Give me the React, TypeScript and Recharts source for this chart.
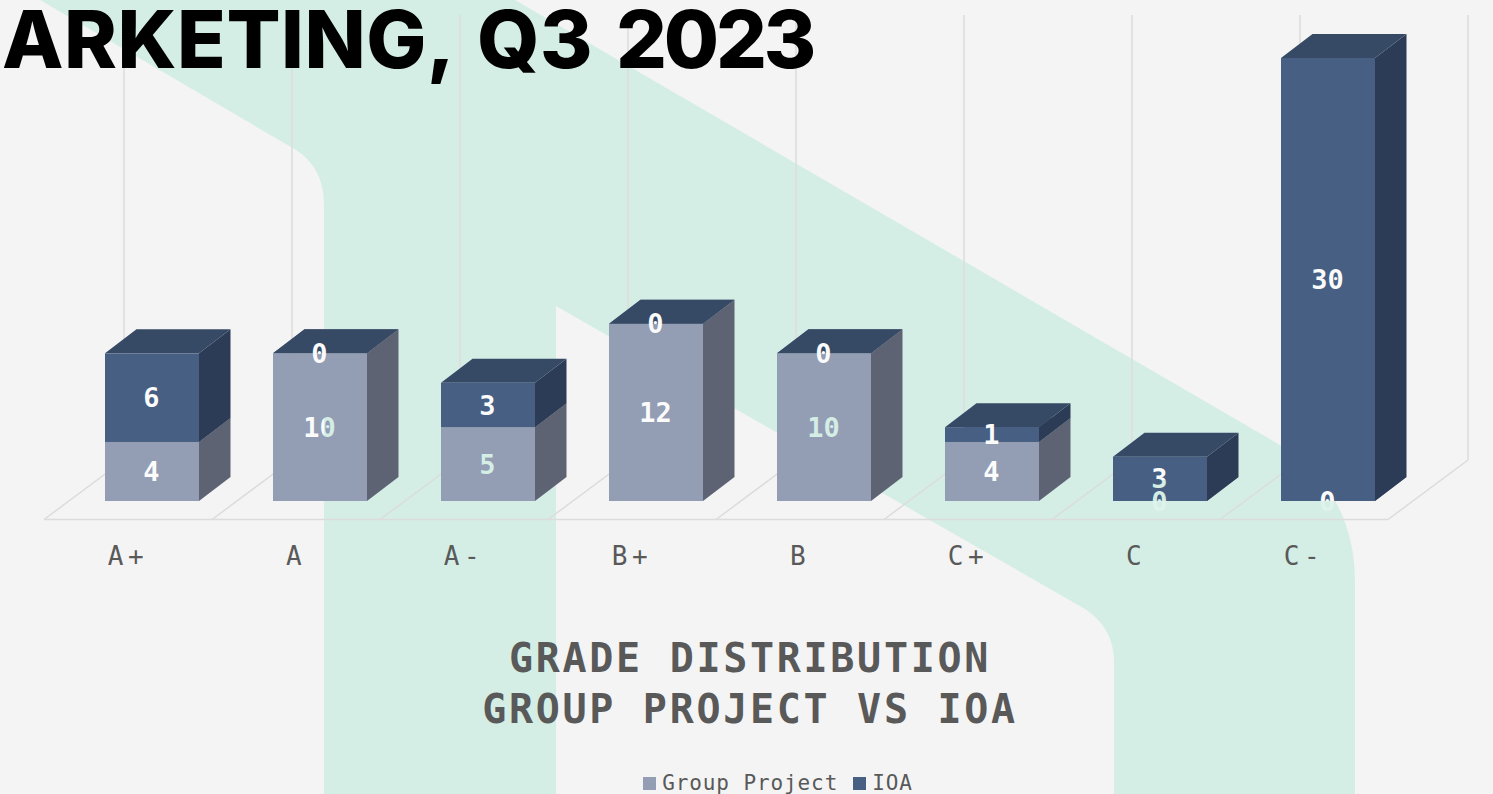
import React from "react";
import { BarChart, Bar, XAxis, YAxis, Legend, LabelList, CartesianGrid } from "recharts";

const grades = ["A+", "A", "A-", "B+", "B", "C+", "C", "C-"];
const groupProject = [4, 10, 5, 12, 10, 4, 0, 0];
const ioa = [6, 0, 3, 0, 0, 1, 3, 30];

const rows = grades.map((grade, i) => ({ grade, groupProject: groupProject[i], ioa: ioa[i] }));

const W = 1493;
const H = 794;
const PAGE = "#f4f4f4";
const MINT = "#d4eee6";
const LABEL_WHITE = "#fbfbfb";
const GRID = "#dcdcdc";
const TEXT = "#595959";
const MONO = "'DejaVu Sans Mono', monospace";
const DEPTH_X = 31.5;
const DEPTH_Y = 24;
const RIBBON =
  "M40 0 L296 150 Q324 168 324 205 L324 794 L556 794 L556 306 L1085 609 Q1114 628 1114 662 L1114 794 L1355 794 L1355 580 C1355 520 1325 470 1280 445 L515 0 Z";

const GROUP_COLORS = { front: "#939eb5", side: "#5e6373", top: "#6e7689" };
const IOA_COLORS = { front: "#475f82", side: "#2c3c56", top: "#364a66" };

function Box3D(props: any) {
  const { x, y, width, height, colors } = props;
  const r = x + width;
  const b = y + height;
  return (
    <g>
      <polygon
        points={`${r},${y} ${r + DEPTH_X},${y - DEPTH_Y} ${r + DEPTH_X},${b - DEPTH_Y} ${r},${b}`}
        fill={colors.side}
      />
      <polygon
        points={`${x},${y} ${x + DEPTH_X},${y - DEPTH_Y} ${r + DEPTH_X},${y - DEPTH_Y} ${r},${y}`}
        fill={colors.top}
      />
      <rect x={x} y={y} width={width} height={height} fill={colors.front} />
    </g>
  );
}

function bandCentres(props: any) {
  const { offset } = props;
  const step = offset.width / grades.length;
  return grades.map((_, i) => offset.left + step * (i + 0.5));
}

function gridCell(props: any) {
  const { x1: x, y2, index, key } = props;
  const baseY = y2;
  const frontY = baseY + 18.5;
  const backY = baseY - 41;
  const left = x - 108;
  const back = x - 28;
  const isLast = index === grades.length - 1;
  return (
    <g key={key ?? index}>
      <line x1={left} y1={frontY} x2={back} y2={backY} stroke={GRID} strokeWidth={1.5} />
      <line x1={back} y1={backY} x2={back} y2={15} stroke={GRID} strokeWidth={1.5} />
      <line x1={left} y1={frontY} x2={left + 168} y2={frontY} stroke={GRID} strokeWidth={1.5} />
      {isLast && (
        <>
          <line x1={left + 168} y1={frontY} x2={back + 168} y2={backY} stroke={GRID} strokeWidth={1.5} />
          <line x1={back + 168} y1={backY} x2={back + 168} y2={15} stroke={GRID} strokeWidth={1.5} />
        </>
      )}
    </g>
  );
}

function GradeTick(props: any) {
  const { x, payload } = props;
  return (
    <text x={x - 24} y={565} textAnchor="middle" fill={TEXT} fontFamily={MONO} fontSize={26} letterSpacing={4.5}>
      {payload.value}
    </text>
  );
}

function LegendRow(props: any) {
  return (
    <div
      style={{
        display: "flex",
        justifyContent: "center",
        alignItems: "center",
        height: 26,
        paddingLeft: 78,
        fontFamily: MONO,
        fontSize: 21,
        letterSpacing: 0.9,
        color: TEXT,
        whiteSpace: "nowrap",
      }}
    >
      {(props.payload || []).map((item: any) => (
        <span key={item.value} style={{ display: "inline-flex", alignItems: "center", marginRight: 15 }}>
          <span style={{ width: 13, height: 13, background: item.color, marginRight: 6, display: "inline-block" }} />
          {item.value}
        </span>
      ))}
    </div>
  );
}

function CutoutLabel(props: any) {
  const { x, y, width, height, value } = props;
  return (
    <text
      x={x + width / 2 - 0.5}
      y={y + height / 2}
      textAnchor="middle"
      dominantBaseline="central"
      fill="url(#labelFill)"
      fontFamily={MONO}
      fontWeight={700}
      fontSize={27}
    >
      {value}
    </text>
  );
}

export default function App() {
  return (
    <div style={{ position: "fixed", left: 0, top: 0, width: W, height: H, overflow: "hidden", background: PAGE }}>
      <svg width={W} height={H} style={{ position: "absolute", left: 0, top: 0 }}>
        <path d={RIBBON} fill={MINT} />
      </svg>
      <div style={{ position: "absolute", left: 0, top: 0 }}>
        <BarChart
          width={W}
          height={H}
          data={rows}
          margin={{ top: 58, right: 81, left: 68, bottom: 263 }}
          barSize={94}
        >
          <defs>
            <clipPath id="tintZones">
              <rect x={324} y={416} width={232} height={85} />
              <rect x={770} y={410} width={110} height={40} />
              <rect x={1130} y={480} width={60} height={21} />
            </clipPath>
            <clipPath id="belowBars">
              <rect x={0} y={501} width={W} height={H - 501} />
            </clipPath>
            <pattern id="labelFill" patternUnits="userSpaceOnUse" x={0} y={0} width={W} height={H}>
              <rect x={0} y={0} width={W} height={H} fill={LABEL_WHITE} />
              <rect x={0} y={501} width={W} height={H - 501} fill="#f7f7f7" />
              <path d={RIBBON} fill="#dff3ed" clipPath="url(#belowBars)" />
              <path d={RIBBON} fill={MINT} clipPath="url(#tintZones)" />
            </pattern>
          </defs>
          <CartesianGrid horizontal={false} vertical={gridCell} verticalCoordinatesGenerator={bandCentres} />
          <XAxis
            dataKey="grade"
            height={30}
            axisLine={false}
            tickLine={false}
            interval={0}
            tick={<GradeTick />}
          />
          <YAxis hide domain={[0, 30]} />
          <Bar
            dataKey="groupProject"
            name="Group Project"
            stackId="grades"
            fill={GROUP_COLORS.front}
            isAnimationActive={false}
            shape={<Box3D colors={GROUP_COLORS} />}
          >
            <LabelList dataKey="groupProject" content={<CutoutLabel />} />
          </Bar>
          <Bar
            dataKey="ioa"
            name="IOA"
            stackId="grades"
            fill={IOA_COLORS.front}
            isAnimationActive={false}
            shape={<Box3D colors={IOA_COLORS} />}
          >
            <LabelList dataKey="ioa" content={<CutoutLabel />} />
          </Bar>
          <Legend
            layout="horizontal"
            verticalAlign="middle"
            align="center"
            wrapperStyle={{ left: 0, top: 770, width: W, height: 26 }}
            content={<LegendRow />}
          />
        </BarChart>
      </div>
      <svg width={W} height={H} style={{ position: "absolute", left: 0, top: 0, pointerEvents: "none" }}>
        <text x={750} y={672} textAnchor="middle" fill={TEXT} fontFamily={MONO} fontWeight={700} fontSize={40} letterSpacing={2.7}>
          GRADE DISTRIBUTION
        </text>
        <text x={750} y={723} textAnchor="middle" fill={TEXT} fontFamily={MONO} fontWeight={700} fontSize={40} letterSpacing={2.7}>
          GROUP PROJECT VS IOA
        </text>
        <text y={68} fill="#000000" fontFamily="Inter, sans-serif" fontWeight={800} fontSize={80}>
          <tspan x={2} letterSpacing={0.5}>ARKETING,</tspan>
          <tspan x={477} letterSpacing={0.5}>Q3</tspan>
          <tspan x={616} letterSpacing={-3.2}>2023</tspan>
        </text>
      </svg>
    </div>
  );
}
